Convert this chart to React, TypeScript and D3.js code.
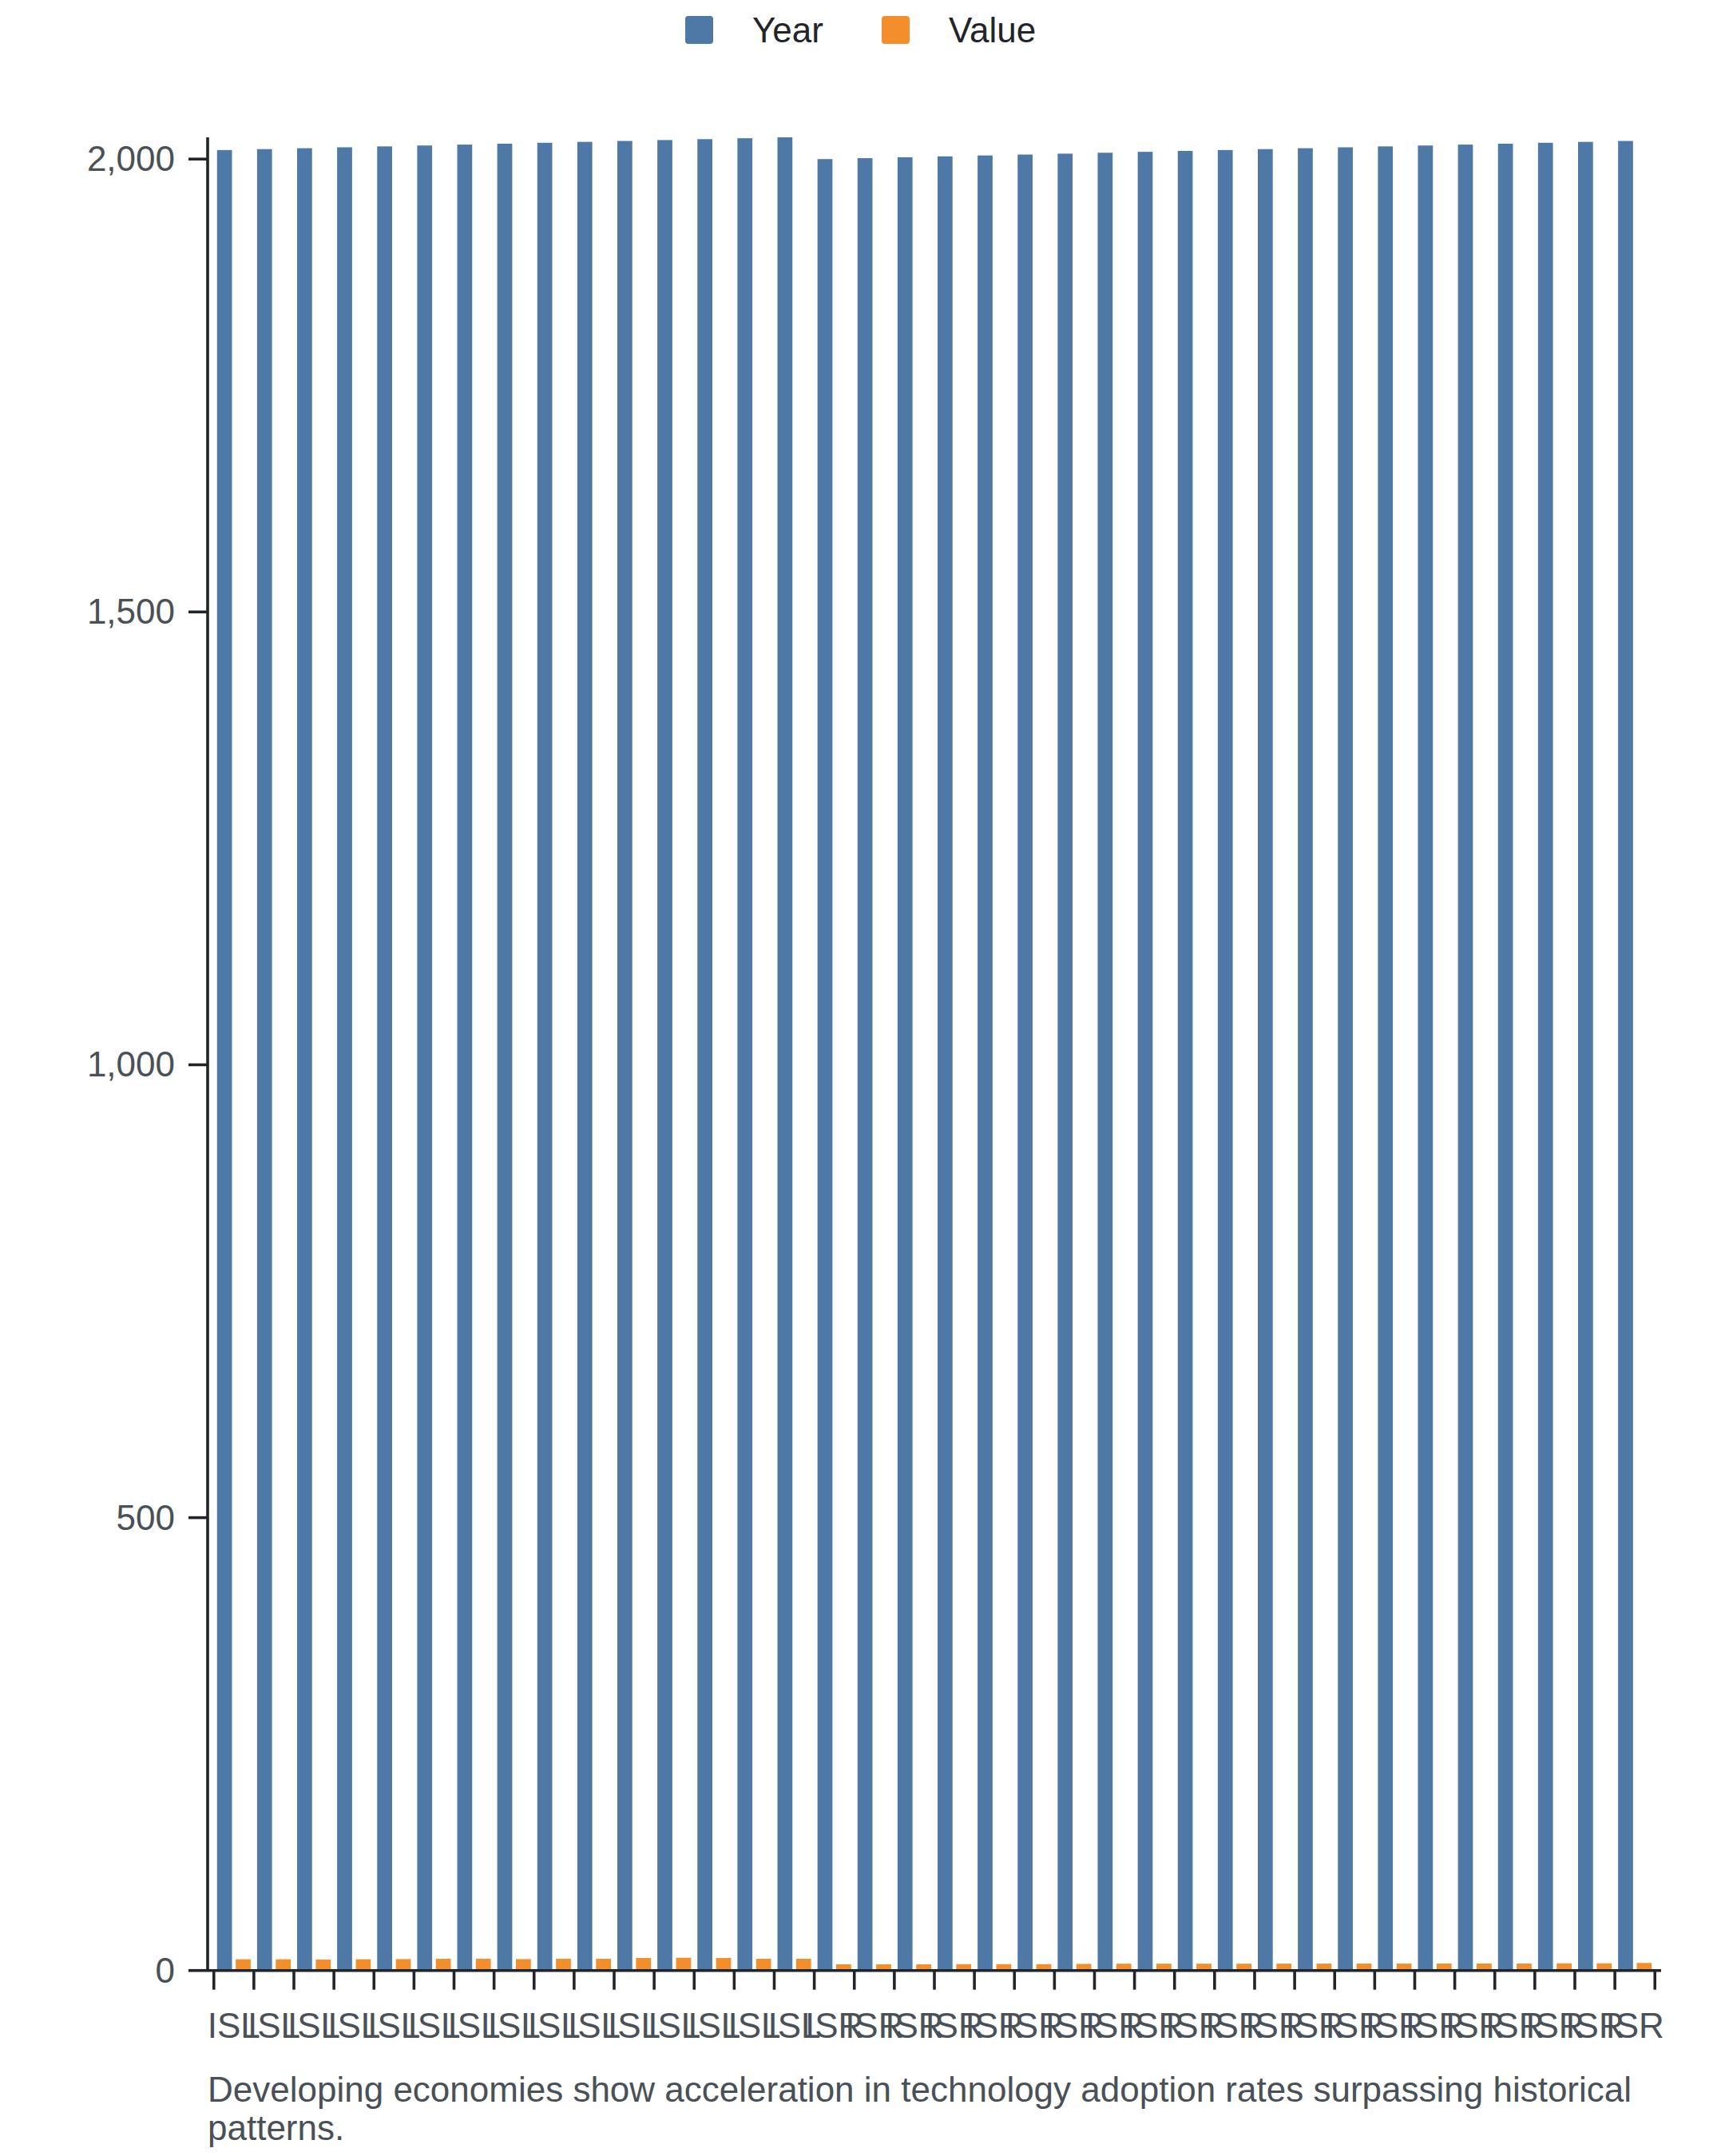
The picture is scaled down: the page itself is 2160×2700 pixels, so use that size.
import React, { useEffect, useMemo } from "react";
import * as d3 from "d3";

// ---- data ----
const ENTITIES = [
  "ISL", "ISL", "ISL", "ISL", "ISL", "ISL", "ISL", "ISL", "ISL", "ISL", "ISL", "ISL", "ISL", "ISL", "ISL",
  "ISR", "ISR", "ISR", "ISR", "ISR", "ISR", "ISR", "ISR", "ISR", "ISR", "ISR", "ISR", "ISR", "ISR", "ISR",
  "ISR", "ISR", "ISR", "ISR", "ISR", "ISR",
];
const YEARS = [
  2010, 2011, 2012, 2013, 2014, 2015, 2016, 2017, 2018, 2019, 2020, 2021, 2022, 2023, 2024,
  2000, 2001, 2002, 2003, 2004, 2005, 2006, 2007, 2008, 2009, 2010, 2011, 2012, 2013, 2014,
  2015, 2016, 2017, 2018, 2019, 2020,
];
const VALUES = [
  12.4, 12.4, 12.1, 12.4, 12.6, 12.9, 12.9, 12.6, 12.9, 12.9, 13.8, 14.1, 13.8, 12.9, 12.9,
  6.8, 6.8, 6.8, 7.0, 7.0, 7.0, 7.3, 7.5, 7.5, 7.5, 7.5, 7.6, 7.6, 7.6, 7.6,
  7.7, 7.7, 7.7, 7.9, 7.9, 8.3,
];
const SERIES = ["Year", "Value"];
const Y_TICKS = [0, 500, 1000, 1500, 2000];
const CAPTION =
  "Developing economies show acceleration in technology adoption rates surpassing historical patterns.";

const COLORS = ["#4e79a7", "#f28e2b"];
const W = 2160;
const H = 2700;
const M = { left: 260, right: 2080, top: 172, bottom: 2467.7 };
const FONT = "'Liberation Sans', Arial, Helvetica, sans-serif";
const AXIS_COLOR = "#212529";
const TEXT_COLOR = "#495057";

function wrap(text: string, width: number, font: string): string[] {
  const canvas = document.createElement("canvas");
  const ctx = canvas.getContext("2d")!;
  ctx.font = font;
  const words = text.split(" ");
  const lines: string[] = [];
  let line = "";
  for (const w of words) {
    const test = line ? line + " " + w : w;
    if (ctx.measureText(test).width > width && line) {
      lines.push(line);
      line = w;
    } else line = test;
  }
  if (line) lines.push(line);
  return lines;
}

export default function App() {
  useEffect(() => {
    document.body.style.margin = "0";
  }, []);

  const rows = ENTITIES.map((e, i) => ({ id: String(i), entity: e, Year: YEARS[i], Value: VALUES[i] }));

  const x0 = d3
    .scaleBand<string>()
    .domain(rows.map((r) => r.id))
    .range([M.left, M.right])
    .paddingInner(0.16)
    .paddingOuter(0.235);
  const x1 = d3.scaleBand<string>().domain(SERIES).range([0, x0.bandwidth()]).paddingInner(0.2);
  const y = d3
    .scaleLinear()
    .domain([0, d3.max(YEARS) as number])
    .range([M.bottom, M.top]);
  const fmt = d3.format(",");
  const step = x0.step();
  const boundaries = rows.map((r) => (x0(r.id) as number) + x0.bandwidth() / 2 - step / 2);
  boundaries.push((x0(rows[rows.length - 1].id) as number) + x0.bandwidth() / 2 + step / 2);

  const captionLines = useMemo(() => wrap(CAPTION, M.right - M.left, `44px ${FONT}`), []);

  // legend layout
  const legendItems = [
    { key: "Year", sx: 858, tx: 942 },
    { key: "Value", sx: 1104, tx: 1188 },
  ];

  return (
    <div style={{ position: "absolute", left: 0, top: 0 }}>
      <svg width={W} height={H} style={{ display: "block", background: "#fff" }} fontFamily={FONT}>
        {/* legend */}
        <g>
          {legendItems.map((l, i) => (
            <g key={l.key}>
              <rect x={l.sx} y={20} width={35} height={35} rx={4} fill={COLORS[i]} />
              <text x={l.tx} y={53} fontSize={44} fill={AXIS_COLOR}>
                {l.key}
              </text>
            </g>
          ))}
        </g>

        {/* bars */}
        <g>
          {rows.map((r) => (
            <g key={r.id} transform={`translate(${x0(r.id)},0)`}>
              {SERIES.map((s, si) => {
                const v = (r as any)[s] as number;
                return (
                  <rect
                    key={s}
                    x={x1(s)}
                    y={y(v)}
                    width={x1.bandwidth()}
                    height={y(0) - y(v)}
                    fill={COLORS[si]}
                  />
                );
              })}
            </g>
          ))}
        </g>

        {/* y axis */}
        <g>
          <line x1={M.left} x2={M.left} y1={M.top} y2={M.bottom} stroke={AXIS_COLOR} strokeWidth={3.6} />
          {Y_TICKS.map((t) => (
            <g key={t} transform={`translate(0,${y(t)})`}>
              <line x1={M.left - 24} x2={M.left} stroke={AXIS_COLOR} strokeWidth={3.6} />
              <text x={219} dy="0.34em" textAnchor="end" fontSize={44} fill={TEXT_COLOR}>
                {fmt(t)}
              </text>
            </g>
          ))}
        </g>

        {/* x axis */}
        <g>
          <line x1={M.left} x2={M.right} y1={M.bottom} y2={M.bottom} stroke={AXIS_COLOR} strokeWidth={3.6} />
          {boundaries.map((bx, i) => (
            <line key={i} x1={bx} x2={bx} y1={M.bottom} y2={M.bottom + 24} stroke={AXIS_COLOR} strokeWidth={3.6} />
          ))}
          {rows.map((r) => (
            <text
              key={r.id}
              x={(x0(r.id) as number) + x0.bandwidth() / 2}
              y={2551.7}
              textAnchor="middle"
              fontSize={44}
              fill={TEXT_COLOR}
            >
              {r.entity}
            </text>
          ))}
        </g>

        {/* caption */}
        <text x={M.left} y={2631.7} fontSize={44} fill={TEXT_COLOR}>
          {captionLines.map((l, i) => (
            <tspan key={i} x={M.left} dy={i === 0 ? 0 : 48.4}>
              {l}
            </tspan>
          ))}
        </text>
      </svg>
    </div>
  );
}
